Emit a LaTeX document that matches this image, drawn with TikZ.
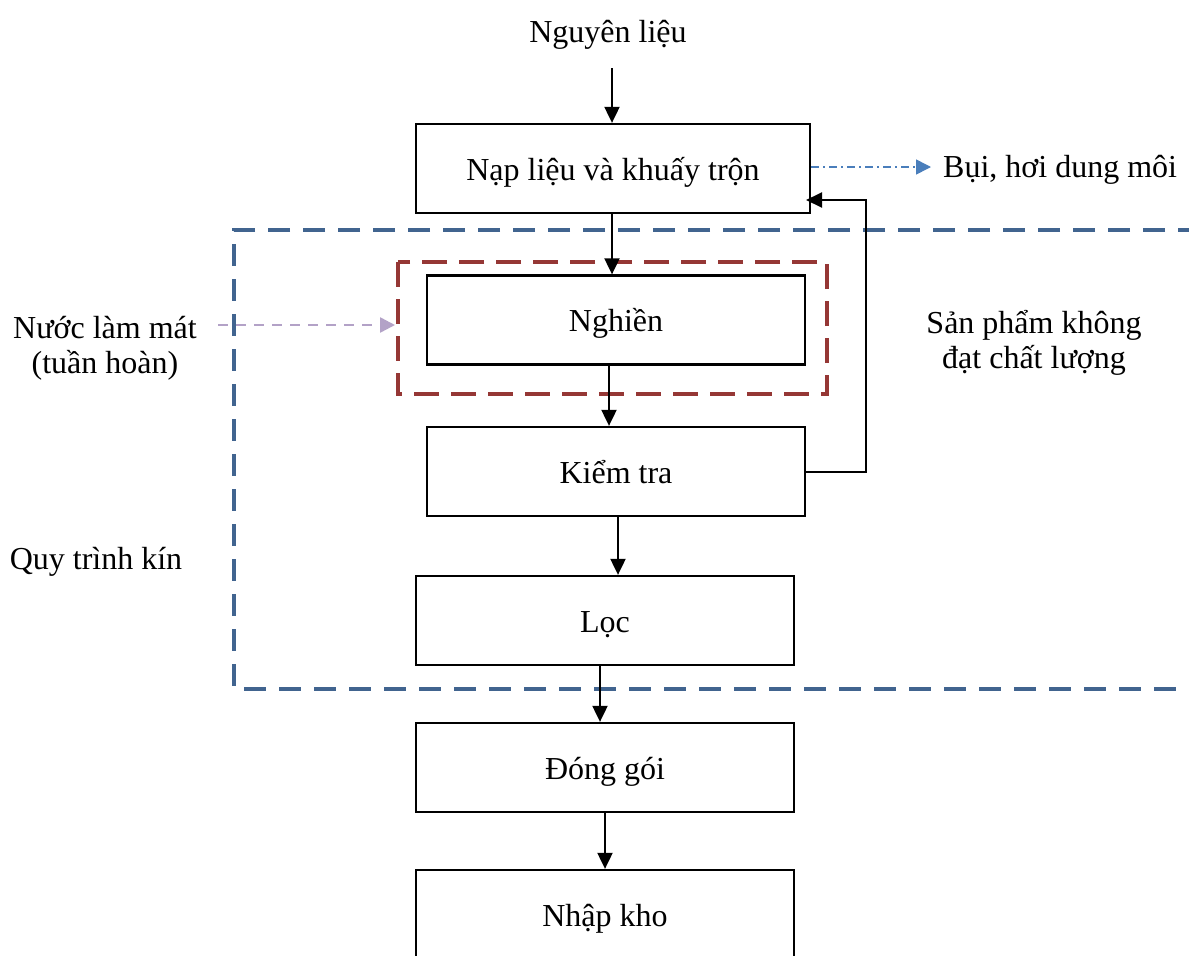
\documentclass[tikz,border=0pt]{standalone}
\usepackage{fontspec}
\setmainfont{Liberation Serif}
\usetikzlibrary{arrows.meta}
\definecolor{zoneblue}{HTML}{41648F}
\definecolor{zonered}{HTML}{953735}
\definecolor{coolpurple}{HTML}{B3A2C7}
\definecolor{dustblue}{HTML}{4A7EBB}
\tikzset{
  stepbox/.style={draw=black, line width=2.3pt, rectangle, minimum width=378pt, minimum height=89pt, inner sep=0pt, text height=30pt, text depth=7pt, font=\fontsize{32}{38}\selectfont},
  label/.style={inner sep=0pt, font=\fontsize{32}{38}\selectfont, align=center},
  flow/.style={draw=black, line width=2pt, -{Triangle[length=16pt,width=15pt]}},
  zone/.style={draw=zoneblue, line width=4pt, dash pattern=on 22pt off 13pt},
  mill/.style={draw=zonered, line width=4pt, dash pattern=on 25pt off 12pt},
}
\begin{document}
\begin{tikzpicture}[x=1pt,y=-1pt]
\clip (0,0) rectangle (1189,956);
\fill[white] (0,0) rectangle (1189,956);

% closed-process zone and mill enclosure
\draw[zone] (1200,230) -- (234,230) -- (234,689) -- (1200,689);
\draw[mill] (398,262) rectangle (827,394);

% process steps
\node[stepbox, minimum width=394pt] (nap) at (613,168.5) {Nạp liệu và khuấy trộn};
\node[stepbox] (ngh) at (616,320) {Nghiền};
\node[stepbox] (kt) at (616,471.5) {Kiểm tra};
\node[stepbox] (loc) at (605,620.5) {Lọc};
\node[stepbox] (dg) at (605,767.5) {Đóng gói};
\node[stepbox] (nk) at (605,914.5) {Nhập kho};

% side labels
\node[label] (nl) at (608,35) {Nguyên liệu};
\node[label, anchor=west] (bui) at (943,170) {Bụi, hơi dung môi};
\node[label] (nuoc) at (105,348) {Nước làm mát\\[-3pt](tuần hoàn)};
\node[label] (sp) at (1034,343) {Sản phẩm không\\[-3pt]đạt chất lượng};
\node[label] (qt) at (96,562) {Quy trình kín};

\coordinate (nlend) at (612,68);
\coordinate (dustend) at (931,167);
\coordinate (nuocend) at (218,325);

% main flow
\draw[flow] (nlend) -- (nap.north -| nlend);
\draw[flow] (nap.south -| 612,0) -- (ngh.north -| 612,0);
\draw[flow] (ngh.south -| 609,0) -- (kt.north -| 609,0);
\draw[flow] (kt.south -| 618,0) -- (loc.north -| 618,0);
\draw[flow] (loc.south -| 600,0) -- (dg.north -| 600,0);
\draw[flow] (dg.south -| 605,0) -- (nk.north -| 605,0);

% rejected product returns to mixing
\draw[flow] (kt.east) -- (866,471.5) |- (806,200);

% emissions
\draw[draw=dustblue, line width=1.6pt, dash pattern=on 8pt off 4pt on 2pt off 4pt,
  -{Triangle[length=15pt,width=15pt]}] (nap.east |- dustend) -- (dustend);

% cooling water
\draw[draw=coolpurple, line width=2.5pt, dash pattern=on 10pt off 8pt,
  -{Triangle[length=15pt,width=15pt]}] (nuocend) -- (395,325);
\end{tikzpicture}
\end{document}
